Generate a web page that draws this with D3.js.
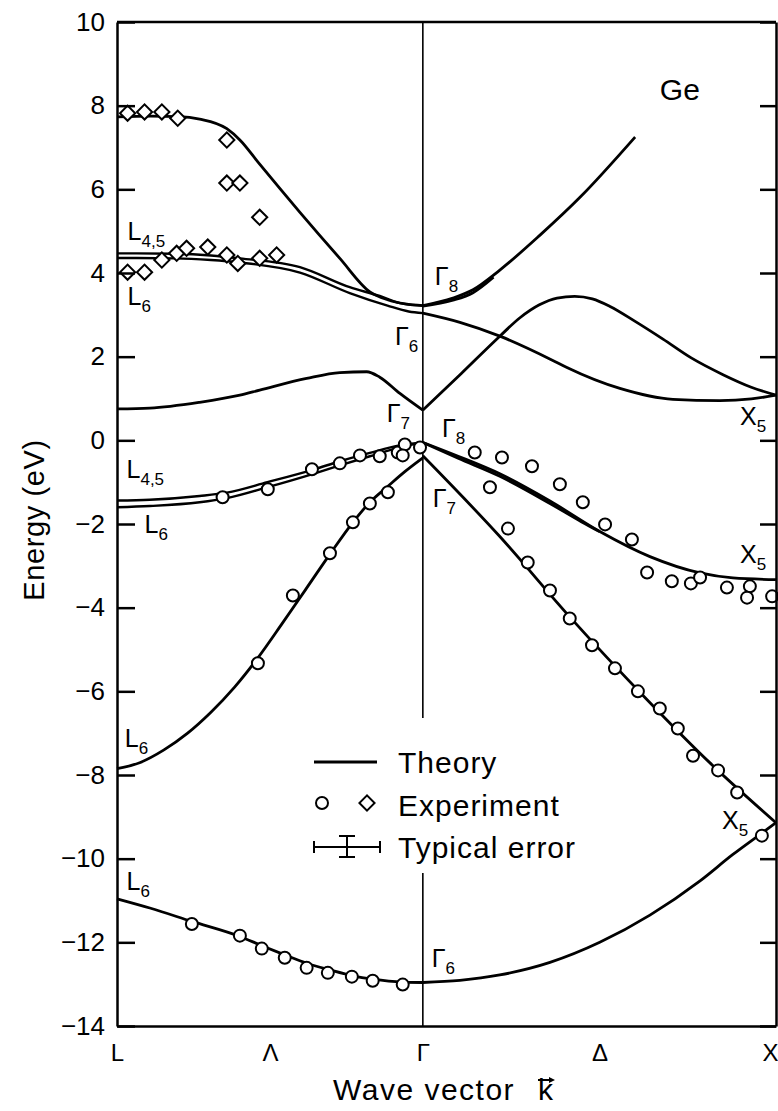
<!DOCTYPE html>
<html>
<head>
<meta charset="utf-8">
<script src="https://cdn.jsdelivr.net/npm/d3@7"></script>
<style>
  body { margin: 0; background: #fff; }
  svg { display: block; font-family: "Liberation Sans", Arial, sans-serif; }
</style>
</head>
<body>
<svg width="778" height="1111"></svg>
<script>
// k along the path L - Gamma - X (L-Gamma is sqrt(3)/2 of Gamma-X)
var kPoints = [-0.866, -0.433, 0, 0.5, 1];
var kLabels = ['L', 'Λ', 'Γ', 'Δ', 'X'];
var energyTicks = [10, 8, 6, 4, 2, 0, -2, -4, -6, -8, -10, -12, -14];

// theory bands, [k, E in eV]
var condTopLeft = [[-0.866, 7.73], [-0.77, 7.75], [-0.69, 7.74], [-0.632, 7.68], [-0.555, 7.45],
  [-0.518, 7.18], [-0.462, 6.6], [-0.348, 5.45], [-0.235, 4.35], [-0.15, 3.55], [-0.1, 3.36],
  [-0.05, 3.26], [0, 3.22]];
var condTopRight = [[0, 3.22], [0.085, 3.40], [0.142, 3.6], [0.218, 4.07], [0.331, 4.9],
  [0.445, 5.81], [0.601, 7.25]];
var condTopRight2 = [[0, 3.21], [0.085, 3.35], [0.142, 3.53], [0.2, 3.9]];
var condL45 = [[-0.866, 4.47], [-0.7, 4.46], [-0.6, 4.42], [-0.518, 4.35], [-0.348, 4.14],
  [-0.207, 3.66], [-0.122, 3.45], [-0.065, 3.28], [0, 3.22]];
var condL6 = [[-0.866, 4.36], [-0.7, 4.35], [-0.6, 4.31], [-0.518, 4.25], [-0.348, 4.01],
  [-0.207, 3.52], [-0.1, 3.22], [-0.04, 3.08], [0, 3.04]];
var condG6X = [[0, 3.04], [0.105, 2.82], [0.218, 2.49], [0.368, 1.91], [0.408, 1.74], [0.558, 1.24],
  [0.708, 0.98], [0.841, 0.95], [0.93, 0.99], [1, 1.08]];
var condG7X = [[0, 0.72], [0.109, 1.6], [0.218, 2.49], [0.275, 2.93], [0.33, 3.24], [0.38, 3.40],
  [0.43, 3.44], [0.48, 3.38], [0.53, 3.2], [0.6, 2.85], [0.68, 2.42], [0.76, 1.97], [0.85, 1.57],
  [0.93, 1.27], [1, 1.08]];
var condLowLeft = [[-0.866, 0.75], [-0.773, 0.77], [-0.632, 0.91], [-0.518, 1.08], [-0.462, 1.2],
  [-0.329, 1.48], [-0.235, 1.62], [-0.159, 1.64], [-0.122, 1.51], [-0.065, 1.12], [0, 0.72]];
var valL45 = [[-0.866, -1.44], [-0.773, -1.42], [-0.632, -1.33], [-0.555, -1.25], [-0.44, -1.0],
  [-0.31, -0.7], [-0.235, -0.5], [-0.15, -0.3], [-0.065, -0.12], [0, -0.05]];
var valL6 = [[-0.866, -1.6], [-0.773, -1.57], [-0.632, -1.48], [-0.555, -1.38], [-0.44, -1.12],
  [-0.31, -0.8], [-0.235, -0.6], [-0.15, -0.38], [-0.065, -0.17], [0, -0.05]];
var valSplitLeft = [[-0.866, -7.85], [-0.8, -7.7], [-0.733, -7.4], [-0.666, -7.0], [-0.6, -6.5],
  [-0.533, -5.9], [-0.467, -5.2], [-0.4, -4.4], [-0.333, -3.58], [-0.263, -2.72], [-0.198, -1.96],
  [-0.15, -1.48], [-0.099, -1.1], [-0.051, -0.75], [0, -0.42]];
var valHeavyRight = [[0, -0.05], [0.1, -0.38], [0.218, -0.8], [0.36, -1.45], [0.501, -2.18],
  [0.643, -2.78], [0.785, -3.17], [0.878, -3.29], [1, -3.33]];
var valLightRight = [[0, -0.05], [0.1, -0.43], [0.218, -0.86], [0.36, -1.51], [0.45, -1.95], [0.5, -2.18]];
var valSplitRight = [[0, -0.37], [0.218, -2.3], [0.416, -4.22], [0.635, -6.2], [0.813, -7.71], [1, -9.14]];
var valBottomLeft = [[-0.866, -10.96], [-0.773, -11.18], [-0.654, -11.5], [-0.518, -11.86],
  [-0.456, -12.08], [-0.391, -12.3], [-0.329, -12.5], [-0.263, -12.66], [-0.198, -12.8],
  [-0.142, -12.88], [-0.057, -12.95], [0, -12.96]];
var valBottomRight = [[0, -12.96], [0.105, -12.91], [0.218, -12.78], [0.36, -12.48], [0.501, -12.0],
  [0.643, -11.35], [0.785, -10.53], [0.878, -9.9], [0.955, -9.42], [1, -9.14]];

// experiment
var expDiamonds = [[-0.836, 7.82], [-0.788, 7.85], [-0.739, 7.85], [-0.694, 7.70], [-0.555, 7.18],
  [-0.555, 6.15], [-0.518, 6.15], [-0.462, 5.33], [-0.836, 4.02], [-0.788, 4.02], [-0.739, 4.31],
  [-0.697, 4.47], [-0.669, 4.59], [-0.609, 4.62], [-0.555, 4.43], [-0.524, 4.23], [-0.462, 4.35],
  [-0.414, 4.43]];
var expCircles = [
  [-0.567, -1.36], [-0.439, -1.17], [-0.314, -0.69], [-0.235, -0.55], [-0.178, -0.36], [-0.122, -0.38],
  [-0.071, -0.29], [-0.051, -0.10], [-0.057, -0.36], [-0.008, -0.17],
  [-0.467, -5.33], [-0.368, -3.71], [-0.263, -2.70], [-0.198, -1.96], [-0.150, -1.51], [-0.099, -1.24],
  [-0.654, -11.56], [-0.518, -11.84], [-0.456, -12.15], [-0.391, -12.37], [-0.329, -12.61],
  [-0.269, -12.73], [-0.201, -12.82], [-0.142, -12.92], [-0.057, -13.01],
  [0.147, -0.29], [0.224, -0.41], [0.309, -0.62], [0.388, -1.05], [0.453, -1.48], [0.516, -2.01],
  [0.592, -2.37], [0.635, -3.16], [0.705, -3.37], [0.759, -3.42], [0.785, -3.28], [0.861, -3.52],
  [0.926, -3.49], [0.918, -3.76], [0.989, -3.73],
  [0.19, -1.12], [0.241, -2.11], [0.297, -2.92], [0.360, -3.59], [0.416, -4.26], [0.479, -4.90],
  [0.544, -5.45], [0.609, -6.0], [0.671, -6.41], [0.722, -6.89], [0.765, -7.54], [0.836, -7.89],
  [0.890, -8.42], [0.960, -9.45]];

// state labels: letter, subscript, k, E
var stateLabels = [
  ['L', '4,5', -0.836, 4.78], ['L', '6', -0.836, 3.23], ['Γ', '8', 0.034, 3.71], ['Γ', '6', -0.079, 2.27],
  ['X', '5', 0.898, 0.36], ['Γ', '7', -0.102, 0.43], ['Γ', '8', 0.054, 0.07], ['L', '4,5', -0.839, -0.91],
  ['L', '6', -0.788, -2.22], ['Γ', '7', 0.028, -1.6], ['X', '5', 0.898, -2.94], ['L', '6', -0.844, -7.34],
  ['X', '5', 0.847, -9.28], ['L', '6', -0.839, -10.74], ['Γ', '6', 0.025, -12.58]];

var svg = d3.select('svg');

var xScale = d3.scaleLinear()
               .domain([-0.866, 1])
               .range([117, 776]);

var yScale = d3.scaleLinear()
               .domain([-14, 10])
               .range([1026, 22]);

var line = d3.line()
             .x(function(d) { return xScale(d[0]); })
             .y(function(d) { return yScale(d[1]); })
             .curve(d3.curveMonotoneX);

// Gamma vertical line
svg.append('line')
   .attr('x1', xScale(0)).attr('x2', xScale(0))
   .attr('y1', yScale(10)).attr('y2', yScale(-14))
   .style('stroke', 'black')
   .style('stroke-width', 1.6);

// bands
var thick = [condTopLeft, condTopRight, condTopRight2, condG6X, condG7X, condLowLeft,
  valSplitLeft, valHeavyRight, valLightRight, valSplitRight, valBottomLeft, valBottomRight];
var doubled = [condL45, condL6, valL45, valL6];

svg.selectAll('path.band')
   .data(thick)
   .enter()
   .append('path')
   .attr('class', 'band')
   .attr('d', line)
   .style('fill', 'none')
   .style('stroke', 'black')
   .style('stroke-width', 2.8);

svg.selectAll('path.band2')
   .data(doubled)
   .enter()
   .append('path')
   .attr('class', 'band2')
   .attr('d', line)
   .style('fill', 'none')
   .style('stroke', 'black')
   .style('stroke-width', 2.4);

// experiment points
svg.selectAll('circle.exp')
   .data(expCircles)
   .enter()
   .append('circle')
   .attr('class', 'exp')
   .attr('r', 6)
   .attr('cx', function(d) { return xScale(d[0]); })
   .attr('cy', function(d) { return yScale(d[1]); })
   .style('fill', 'white')
   .style('stroke', 'black')
   .style('stroke-width', 2);

var diamond = d3.symbol().type(d3.symbolSquare).size(115);
svg.selectAll('path.dia')
   .data(expDiamonds)
   .enter()
   .append('path')
   .attr('class', 'dia')
   .attr('d', diamond)
   .attr('transform', function(d) {
     return 'translate(' + xScale(d[0]) + ',' + yScale(d[1]) + ') rotate(45)';
   })
   .style('fill', 'white')
   .style('stroke', 'black')
   .style('stroke-width', 2);

// frame and axes
var fmt = function(d) { return d < 0 ? '\u2212' + (-d) : d; };

var yAxis = d3.axisLeft(yScale)
              .tickValues(energyTicks)
              .tickSize(-18)
              .tickSizeOuter(0)
              .tickPadding(12)
              .tickFormat(fmt);
var gy = svg.append('g')
   .attr('transform', 'translate(117,0)')
   .call(yAxis);
gy.selectAll('text').style('font-size', '26px').style('fill', 'black');

var yAxisR = d3.axisLeft(yScale)
               .tickValues(energyTicks)
               .tickSize(16)
               .tickSizeOuter(0)
               .tickFormat('');
svg.append('g')
   .attr('transform', 'translate(776,0)')
   .call(yAxisR);

var xAxis = d3.axisBottom(xScale)
              .tickValues(kPoints)
              .tickSize(0)
              .tickSizeOuter(0)
              .tickPadding(18)
              .tickFormat(function(d, i) { return kLabels[i]; });
var gx = svg.append('g')
   .attr('transform', 'translate(0,1026)')
   .call(xAxis);
gx.selectAll('text').style('font-size', '24px').style('fill', 'black');
// last label sits at the right edge, keep it inside the page
gx.selectAll('text').filter(function(d, i) { return i === kLabels.length - 1; })
  .attr('text-anchor', 'end')
  .attr('x', 778 - xScale(1));

svg.selectAll('.domain, .tick line')
   .style('stroke', 'black')
   .style('stroke-width', 2.5);

svg.append('line')
   .attr('x1', 117).attr('x2', 776)
   .attr('y1', yScale(10)).attr('y2', yScale(10))
   .style('stroke', 'black')
   .style('stroke-width', 2.5);

// state labels
var lab = svg.selectAll('text.state')
   .data(stateLabels)
   .enter()
   .append('text')
   .attr('class', 'state')
   .attr('x', function(d) { return xScale(d[2]); })
   .attr('y', function(d) { return yScale(d[3]); })
   .style('font-size', '25px');
lab.append('tspan').text(function(d) { return d[0]; });
lab.append('tspan')
   .attr('dy', 7)
   .style('font-size', '17px')
   .text(function(d) { return d[1]; });

svg.append('text')
   .attr('x', xScale(0.671))
   .attr('y', yScale(8.13))
   .style('font-size', '30px')
   .text('Ge');

// axis titles
svg.append('text')
   .attr('transform', 'translate(44,520) rotate(-90)')
   .attr('text-anchor', 'middle')
   .style('font-size', '29px')
   .style('letter-spacing', '0.6px')
   .text('Energy  (eV)');

svg.append('text')
   .attr('x', 333)
   .attr('y', 1100)
   .style('font-size', '30px')
   .style('letter-spacing', '1.5px')
   .text('Wave vector');
svg.append('text')
   .attr('x', 538)
   .attr('y', 1100)
   .style('font-size', '30px')
   .text('k');
svg.append('line')
   .attr('x1', 538).attr('x2', 553)
   .attr('y1', 1080).attr('y2', 1080)
   .style('stroke', 'black')
   .style('stroke-width', 2);
svg.append('path')
   .attr('d', 'M549,1077 L555,1080 L549,1083 Z')
   .style('fill', 'black');

// legend, on a white patch over the Gamma line
svg.append('rect')
   .attr('x', 300).attr('y', 718)
   .attr('width', 290).attr('height', 155)
   .style('fill', 'white');

var legend = svg.append('g').attr('transform', 'translate(314,762)');
legend.append('line')
   .attr('x1', 0).attr('x2', 63).attr('y1', 0).attr('y2', 0)
   .style('stroke', 'black').style('stroke-width', 3);
legend.append('circle')
   .attr('cx', 8).attr('cy', 41).attr('r', 6)
   .style('fill', 'white').style('stroke', 'black').style('stroke-width', 2);
legend.append('path')
   .attr('d', diamond)
   .attr('transform', 'translate(53,41) rotate(45)')
   .style('fill', 'white').style('stroke', 'black').style('stroke-width', 2);
var err = legend.append('g').attr('transform', 'translate(0,85)')
   .style('stroke', 'black').style('stroke-width', 2);
err.append('line').attr('x1', 0).attr('x2', 66).attr('y1', 0).attr('y2', 0);
err.append('line').attr('x1', 0).attr('x2', 0).attr('y1', -6).attr('y2', 6);
err.append('line').attr('x1', 66).attr('x2', 66).attr('y1', -6).attr('y2', 6);
err.append('line').attr('x1', 33).attr('x2', 33).attr('y1', -11).attr('y2', 10);
err.append('line').attr('x1', 25).attr('x2', 41).attr('y1', -11).attr('y2', -11);
err.append('line').attr('x1', 25).attr('x2', 41).attr('y1', 10).attr('y2', 10);

legend.selectAll('text.leg')
   .data(['Theory', 'Experiment', 'Typical error'])
   .enter()
   .append('text')
   .attr('class', 'leg')
   .attr('x', 84)
   .attr('y', function(d, i) { return i * 42.5 + 11; })
   .style('font-size', '30px')
   .style('letter-spacing', '1px')
   .text(function(d) { return d; });
</script>
</body>
</html>
